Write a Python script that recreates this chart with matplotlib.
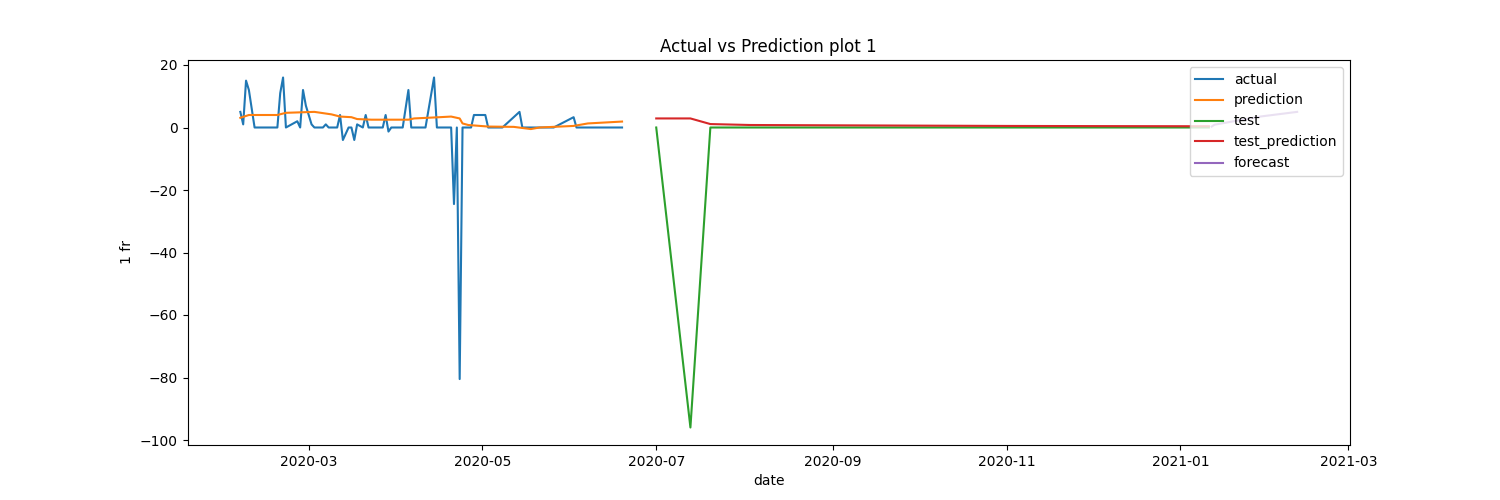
import matplotlib
matplotlib.use('Agg')
import numpy as np
import pandas as pd
import matplotlib.pyplot as plt

actual_dates = ['2020-02-06', '2020-02-07', '2020-02-08', '2020-02-09', '2020-02-11',
                '2020-02-19', '2020-02-20', '2020-02-21', '2020-02-22', '2020-02-24',
                '2020-02-26', '2020-02-27', '2020-02-28', '2020-02-29', '2020-03-02',
                '2020-03-03', '2020-03-06', '2020-03-07', '2020-03-08', '2020-03-11',
                '2020-03-12', '2020-03-13', '2020-03-15', '2020-03-16', '2020-03-17',
                '2020-03-18', '2020-03-19', '2020-03-20', '2020-03-21', '2020-03-22',
                '2020-03-27', '2020-03-28', '2020-03-29', '2020-03-30', '2020-04-03',
                '2020-04-05', '2020-04-06', '2020-04-11', '2020-04-14', '2020-04-15',
                '2020-04-20', '2020-04-21', '2020-04-22', '2020-04-23', '2020-04-24',
                '2020-04-27', '2020-04-28', '2020-05-02', '2020-05-03', '2020-05-08',
                '2020-05-14', '2020-05-15', '2020-05-26', '2020-06-02', '2020-06-03',
                '2020-06-19']
actual_values = [5, 1, 15, 12, 0,
                 0, 11, 16, 0, 1,
                 2, 0, 12, 7, 1,
                 0, 0, 1, 0, 0,
                 4, -4, 0, 0, -4,
                 1, 0.5, 0, 4, 0,
                 0, 4, -1.3, 0, 0,
                 12, 0, 0, 16, 0,
                 0, -24.5, 0, -80.5, 0,
                 0, 4, 4, 0, 0,
                 5, 0, 0, 3.3, 0,
                 0]

pred_dates = ['2020-02-06', '2020-02-09', '2020-02-19', '2020-02-22', '2020-03-03',
              '2020-03-09', '2020-03-12', '2020-03-16', '2020-03-18', '2020-03-23',
              '2020-04-05', '2020-04-07', '2020-04-16', '2020-04-20', '2020-04-23',
              '2020-04-24', '2020-04-26', '2020-05-03', '2020-05-12', '2020-05-18',
              '2020-05-21', '2020-06-02', '2020-06-07', '2020-06-19']
pred_values = [3.1, 4.0, 4.0, 4.7, 5.0,
               4.2, 3.5, 3.3, 2.7, 2.5,
               2.5, 2.9, 3.3, 3.5, 2.9,
               1.3, 0.8, 0.3, 0.2, -0.5,
               0.0, 0.5, 1.3, 1.9]

test_dates = ['2020-07-01', '2020-07-13', '2020-07-20', '2020-08-03', '2020-09-01',
              '2020-10-01', '2020-11-01', '2020-12-01', '2021-01-11']
test_values = [0, -96, 0, 0, 0, 0, 0, 0, 0]
test_pred_values = [2.9, 2.9, 1.1, 0.8, 0.7, 0.6, 0.5, 0.45, 0.4]

forecast_dates = ['2021-01-12', '2021-01-13', '2021-01-29', '2021-02-11']
forecast_values = [0.3, 0.9, 3.5, 5.0]

fig = plt.figure(figsize=(15, 5), dpi=100)
ax = plt.subplot(111)
ax.plot(pd.to_datetime(actual_dates), actual_values, label='actual')
ax.plot(pd.to_datetime(pred_dates), pred_values, label='prediction')
ax.plot(pd.to_datetime(test_dates), test_values, label='test')
ax.plot(pd.to_datetime(test_dates), test_pred_values, label='test_prediction')
ax.plot(pd.to_datetime(forecast_dates), forecast_values, label='forecast')
ax.set_title('Actual vs Prediction plot 1')
ax.set_xlabel('date')
ax.set_ylabel('1 fr')
ax.legend(loc='upper right')
plt.savefig('out.png')
